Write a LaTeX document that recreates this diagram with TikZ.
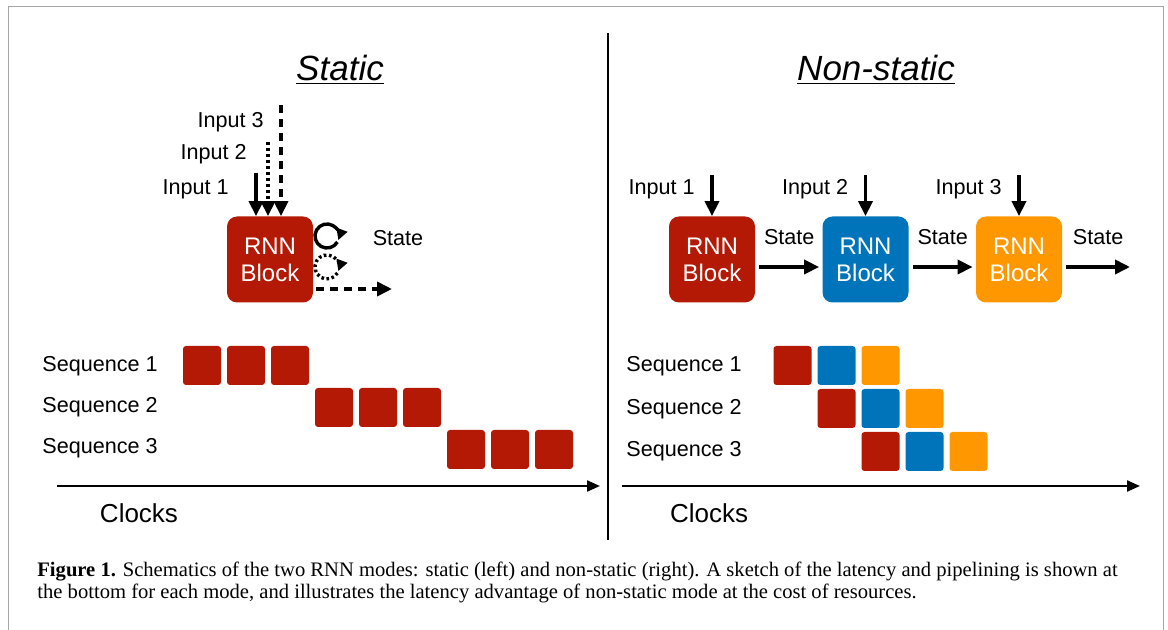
\documentclass[tikz,border=0pt]{standalone}
\usepackage{fontspec}
\setmainfont{Liberation Sans}
\newfontfamily\capfont{Liberation Serif}
\usepackage{tikz}
\usetikzlibrary{arrows.meta, calc}

\definecolor{rnnred}{RGB}{180,25,5}
\definecolor{rnnblue}{RGB}{0,116,186}
\definecolor{rnnorange}{RGB}{255,152,0}

\begin{document}
\begin{tikzpicture}[x=0.5pt, y=-0.5pt, node distance=22pt]
%
% Skiss:
%  Static:  Input 1..3 -> [RNN Block] (state loops back)
%  Non-static: Input 1 -> [RNN] -State-> [RNN] -State-> [RNN] -State->
%  underneath: Sequence 1..3 laid out along Clocks
%
\tikzstyle{title} = [font=\fontsize{17.5}{21}\selectfont, inner sep=0pt]
\tikzstyle{txt} = [font=\fontsize{10.8}{13}\selectfont, inner sep=0pt]
\tikzstyle{clk} = [font=\fontsize{13}{15}\selectfont, inner sep=0pt]
\tikzstyle{block} = [rectangle, rounded corners=5pt, minimum width=43pt, minimum height=43pt, text=white, align=center, font=\fontsize{12}{13.5}\selectfont, inner sep=0pt]
\tikzstyle{tick} = [rectangle, rounded corners=1.5pt, minimum width=19pt, minimum height=19.5pt, inner sep=0pt]
\tikzstyle{arrow} = [line width=1.8pt, -{Triangle[length=7.5pt,width=7pt]}]
\tikzstyle{dotarrow} = [arrow, dash pattern=on 1.5pt off 1.5pt]
\tikzstyle{dasharrow} = [arrow, dash pattern=on 4pt off 3pt]
\tikzstyle{looparrow} = [line width=1.7pt, -{Triangle[length=5.5pt,width=5.5pt]}]
\tikzstyle{axis} = [line width=1.1pt, -{Triangle[length=6.5pt,width=5.5pt]}]
\tikzstyle{frame} = [line width=0.8pt, draw=black!35]
\useasboundingbox (0,0) rectangle (1168,630);

% Frame and divider
\draw [frame] (8.5,630) -- (8.5,6.5) -- (1163.5,6.5) -- (1163.5,630);
\coordinate (divTop) at (608,33);
\coordinate (divBot) at (608,540);
\draw [line width=0.8pt] (divTop) -- (divBot);

% Nodes (static)
\node (ttlS) [title] at (340,70) {\underline{\textit{Static}}};
\node (sblk) [block, fill=rnnred] at (270,259.5) {RNN\\Block};
\node (sin1) [txt, anchor=east] at (229,189) {Input 1};
\node (sin2) [txt, anchor=east] at (247,154) {Input 2};
\node (sin3) [txt, anchor=east] at (264,122) {Input 3};
\node (sstate) [txt] at (398,238) {State};
\coordinate (sarr1) at (256,173);
\coordinate (sarr2) at (268,142);
\coordinate (sarr3) at (281,105);
\coordinate (sloop1) at (327,236);
\coordinate (sloop2) at (327,267);
\coordinate (sout) at (392,289);

% Nodes (non-static)
\node (ttlN) [title] at (876,70) {\underline{\textit{Non-static}}};
\node (rblk1) [block, fill=rnnred] at (712,259.5) {RNN\\Block};
\node (rblk2) [block, fill=rnnblue, right of=rblk1, xshift=54.75pt] {RNN\\Block};
\node (rblk3) [block, fill=rnnorange, right of=rblk2, xshift=54.75pt] {RNN\\Block};
\coordinate (rarr1) at ([yshift=20.5pt]rblk1.north);
\coordinate (rarr2) at ([yshift=20.5pt]rblk2.north);
\coordinate (rarr3) at ([yshift=20.5pt]rblk3.north);
\node (rin1) [txt, anchor=east] at ([xshift=-8.5pt, yshift=-7pt]rarr1) {Input 1};
\node (rin2) [txt, anchor=east] at ([xshift=-8.5pt, yshift=-7pt]rarr2) {Input 2};
\node (rin3) [txt, anchor=east] at ([xshift=-8.5pt, yshift=-7pt]rarr3) {Input 3};
\coordinate (rend) at (1130,267);

% Sequences (static)
\node (lseq1) [txt, anchor=west] at (42,366) {Sequence 1};
\node (lseq2) [txt, anchor=west] at (42,407) {Sequence 2};
\node (lseq3) [txt, anchor=west] at (42,448) {Sequence 3};
\node (l1a) [tick, fill=rnnred] at (202,365.5) {};
\node (l1b) [tick, fill=rnnred, right of=l1a] {};
\node (l1c) [tick, fill=rnnred, right of=l1b] {};
\node (l2a) [tick, fill=rnnred, right of=l1c, yshift=-21pt] {};
\node (l2b) [tick, fill=rnnred, right of=l2a] {};
\node (l2c) [tick, fill=rnnred, right of=l2b] {};
\node (l3a) [tick, fill=rnnred, right of=l2c, yshift=-21pt] {};
\node (l3b) [tick, fill=rnnred, right of=l3a] {};
\node (l3c) [tick, fill=rnnred, right of=l3b] {};

% Sequences (non-static)
\node (rseq1) [txt, anchor=west] at (626,366) {Sequence 1};
\node (rseq2) [txt, anchor=west] at (626,409) {Sequence 2};
\node (rseq3) [txt, anchor=west] at (626,451) {Sequence 3};
\node (r1a) [tick, fill=rnnred] at (792.5,365.5) {};
\node (r1b) [tick, fill=rnnblue, right of=r1a] {};
\node (r1c) [tick, fill=rnnorange, right of=r1b] {};
\node (r2a) [tick, fill=rnnred, below of=r1b, yshift=0.5pt] {};
\node (r2b) [tick, fill=rnnblue, right of=r2a] {};
\node (r2c) [tick, fill=rnnorange, right of=r2b] {};
\node (r3a) [tick, fill=rnnred, below of=r2b, yshift=0.5pt] {};
\node (r3b) [tick, fill=rnnblue, right of=r3a] {};
\node (r3c) [tick, fill=rnnorange, right of=r3b] {};

% Clocks
\coordinate (lclk0) at (57,486);
\coordinate (lclk1) at (600,486);
\coordinate (rclk0) at (622,486);
\coordinate (rclk1) at (1140,486);
\node (lclk) [clk] at (139,513) {Clocks};
\node (rclk) [clk] at (709,513) {Clocks};

% Caption
\node (cap1) [anchor=base west, inner sep=0pt, font=\capfont\fontsize{10.3}{11}\selectfont] at (37,577) {\textbf{Figure 1.} Schematics of the two RNN modes: static (left) and non-static (right). A sketch of the latency and pipelining is shown at};
\node (cap2) [anchor=base west, inner sep=0pt, font=\capfont\fontsize{10.3}{11}\selectfont] at ([yshift=-11pt]cap1.base west) {the bottom for each mode, and illustrates the latency advantage of non-static mode at the cost of resources.};

% Arrows
\draw [arrow] (sarr1) -- (sarr1 |- sblk.north);
\draw [dotarrow] (sarr2) -- (sarr2 |- sblk.north);
\draw [dasharrow] (sarr3) -- (sarr3 |- sblk.north);
\draw [looparrow] ([shift={(330:6pt)}]sloop1) arc[start angle=330, end angle=-20, radius=6pt];
\draw [looparrow, dash pattern=on 1.3pt off 1.3pt] ([shift={(330:6pt)}]sloop2) arc[start angle=330, end angle=-20, radius=6pt];
\draw [dasharrow] ([xshift=1.5pt]sblk.east |- sout) -- (sout);
\draw [arrow] (rarr1) -- (rblk1.north);
\draw [arrow] (rarr2) -- (rblk2.north);
\draw [arrow] (rarr3) -- (rblk3.north);
\draw [arrow] ([xshift=2pt, yshift=-3.75pt]rblk1.east) -- node[txt, midway, yshift=15pt] {State} ([xshift=-1.5pt, yshift=-3.75pt]rblk2.west);
\draw [arrow] ([xshift=2pt, yshift=-3.75pt]rblk2.east) -- node[txt, midway, yshift=15pt] {State} ([xshift=-1.5pt, yshift=-3.75pt]rblk3.west);
\draw [arrow] ([xshift=2pt]rblk3.east |- rend) -- node[txt, midway, yshift=15pt] {State} (rend);
\draw [axis] (lclk0) -- (lclk1);
\draw [axis] (rclk0) -- (rclk1);

\end{tikzpicture}
\end{document}
